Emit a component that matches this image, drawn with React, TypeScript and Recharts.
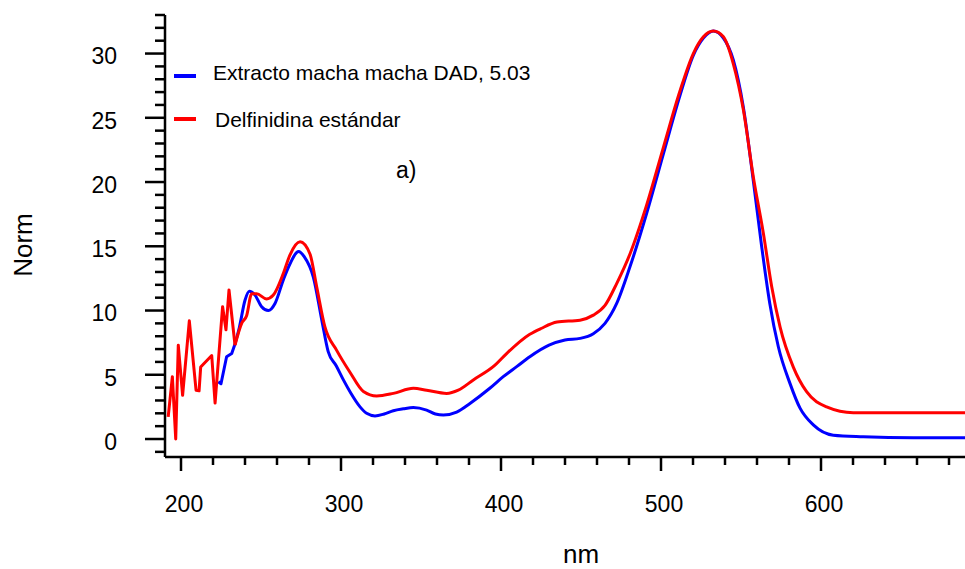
import React from 'react'
import { LineChart, Line, XAxis, YAxis } from 'recharts'

// Extracto macha macha DAD, 5.03 (blue)
const extractoNm = [
  223.3, 225, 228.5, 231.7, 233.75, 236.5, 240, 242.7, 246.25, 250.4, 254.6, 258.75, 264, 268, 273.5, 277,
  282.7, 288, 292, 297, 301.5, 306, 311.9, 316, 321.25, 327, 332.7, 339, 345.2, 353.5, 359, 364, 372.3,
  380.6, 393, 401.4, 410, 418, 430, 440, 449.4, 457.7, 465, 472.3, 480.6, 491, 501.5, 511.9, 520.2, 526.5,
  532.7, 539, 545.2, 551.5, 557.7, 562.9, 568, 573.3, 580.6, 586.9, 595.2, 607.7, 626.4, 657.7, 690
]
const extractoVal = [
  4.46, 4.3, 6.4, 6.65, 7.4, 8.7, 10.8, 11.5, 11.2, 10.3, 10.0, 10.55, 12.4, 13.6, 14.6, 14.2,
  12.6, 9.25, 6.8, 5.7, 4.6, 3.6, 2.5, 2.0, 1.8, 1.95, 2.2, 2.35, 2.45, 2.25, 1.95, 1.87, 2.1,
  2.77, 3.95, 4.85, 5.65, 6.4, 7.3, 7.7, 7.83, 8.2, 9.0, 10.55, 13.4, 17.55, 22.2, 26.75, 29.86, 31.2,
  31.75, 31.2, 29.5, 25.8, 20.1, 15.0, 10.55, 7.2, 4.33, 2.4, 1.1, 0.3, 0.18, 0.1, 0.1
]

// Delfinidina estándar (red)
const delfiNm = [
  192, 194.6, 196.7, 198.3, 201, 205.2, 209.4, 211.3, 212.3, 219.2, 221.3, 226, 228.1, 230, 233.75,
  237.9, 241, 244.2, 247.3, 253.5, 257.7, 264, 268, 274.4, 280.6, 284.8, 290, 297.3, 305.6, 314, 322.3,
  332.7, 345.2, 353.5, 366, 373.3, 382.7, 396.25, 403.5, 418, 425, 435, 449.4, 457.7, 465, 472.3, 480.6,
  491, 501.5, 511.9, 520.2, 526.5, 532.7, 539, 545.2, 551.5, 557.7, 564, 569.2, 574.4, 582.7, 591, 603.5,
  620.2, 690
]
const delfiVal = [
  1.73, 4.85, 0, 7.3, 3.4, 9.2, 3.8, 3.75, 5.6, 6.5, 2.8, 10.3, 8.5, 11.6, 7.3,
  9.0, 9.6, 11.3, 11.3, 10.9, 11.2, 12.9, 14.3, 15.35, 14.4, 11.85, 8.7, 6.9, 5.2, 3.7, 3.35,
  3.55, 3.95, 3.8, 3.55, 3.8, 4.6, 5.75, 6.65, 8.15, 8.6, 9.1, 9.25, 9.64, 10.4, 12.1, 14.4,
  18.2, 22.7, 27.1, 30.0, 31.3, 31.75, 31.3, 29.2, 25.6, 20.4, 16.0, 11.85, 8.73, 5.6, 3.68, 2.5,
  2.05, 2.05
]

const xTicks = [200, 220, 240, 260, 280, 300, 320, 340, 360, 380, 400, 420, 440, 460, 480, 500, 520, 540, 560, 580, 600, 620, 640, 660, 680]
const yTicks = [-1, 0, 1, 2, 3, 4, 5, 6, 7, 8, 9, 10, 11, 12, 13, 14, 15, 16, 17, 18, 19, 20, 21, 22, 23, 24, 25, 26, 27, 28, 29, 30, 31, 32, 33]

// below this wavelength the spectra are noisy, drawn with straight segments
const NOISE_END = 233.75

const toRows = (nms: number[], vals: number[]) => nms.map((nm, i) => ({ nm, v: vals[i] }))
const extractoRows = toRows(extractoNm, extractoVal)
const delfiRows = toRows(delfiNm, delfiVal)
const extractoNoisy = extractoRows.filter(d => d.nm <= NOISE_END)
const extractoSmooth = extractoRows.filter(d => d.nm >= NOISE_END)
const delfiNoisy = delfiRows.filter(d => d.nm <= NOISE_END)
const delfiSmooth = delfiRows.filter(d => d.nm >= NOISE_END)

const FONT = '"Liberation Sans", Arial, sans-serif'
const BLUE = '#0000ff'
const RED = '#ff0000'

const XTick = ({ x, y, payload }: any) => {
  const major = payload.value % 100 === 0
  return (
    <g>
      <line x1={x} x2={x} y1={y} y2={y + (major ? 14 : 8)} stroke="#000" strokeWidth={2.5} />
      {major && (
        <text x={x + 3} y={y + 54.5} textAnchor="middle" fontSize={23} fontFamily={FONT} fill="#000">
          {payload.value}
        </text>
      )}
    </g>
  )
}

const YTick = ({ x, y, payload }: any) => {
  const major = payload.value % 5 === 0
  return (
    <g>
      <line x1={x - (major ? 20 : 10)} x2={x} y1={y} y2={y} stroke="#000" strokeWidth={2.5} />
      {major && (
        <text x={x - 48} y={y + 2.5} dy="0.36em" textAnchor="end" fontSize={23} fontFamily={FONT} fill="#000">
          {payload.value}
        </text>
      )}
    </g>
  )
}

export default function App() {
  const lineProps = { dataKey: 'v', strokeWidth: 3, dot: false, isAnimationActive: false } as const
  return (
    <div style={{ position: 'absolute', left: 0, top: 0, width: 965, height: 569, background: '#fff' }}>
      <LineChart width={965} height={569} margin={{ top: 15, right: 0, bottom: 0, left: 0 }}>
        <XAxis
          dataKey="nm"
          type="number"
          domain={[190, 690]}
          allowDataOverflow
          ticks={xTicks}
          interval={0}
          height={112}
          tickSize={0}
          tickMargin={0}
          tick={XTick}
          axisLine={{ stroke: '#000', strokeWidth: 2.5 }}
        />
        <YAxis
          type="number"
          domain={[-1.4, 33]}
          allowDataOverflow
          ticks={yTicks}
          interval={0}
          width={165}
          tickSize={0}
          tickMargin={0}
          tick={YTick}
          axisLine={{ stroke: '#000', strokeWidth: 2.5 }}
        />
        <Line {...lineProps} data={extractoNoisy} type="linear" stroke={BLUE} strokeLinejoin="round" />
        <Line {...lineProps} data={extractoSmooth} type="monotone" stroke={BLUE} />
        <Line {...lineProps} data={delfiNoisy} type="linear" stroke={RED} strokeLinejoin="round" />
        <Line {...lineProps} data={delfiSmooth} type="monotone" stroke={RED} />
      </LineChart>
      <svg width={965} height={569} style={{ position: 'absolute', left: 0, top: 0, pointerEvents: 'none' }}>
        <line x1={174} x2={196} y1={76} y2={76} stroke={BLUE} strokeWidth={4} />
        <text x={213} y={80} fontSize={21} fontFamily={FONT} fill="#000">Extracto macha macha DAD, 5.03</text>
        <line x1={174} x2={196} y1={119} y2={119} stroke={RED} strokeWidth={4} />
        <text x={215} y={127} fontSize={21} fontFamily={FONT} fill="#000">Delfinidina estándar</text>
        <text x={396} y={178} fontSize={23} fontFamily={FONT} fill="#000">a)</text>
        <text x={32} y={245} transform="rotate(-90 32 245)" textAnchor="middle" fontSize={26} fontFamily={FONT} fill="#000">Norm</text>
        <text x={581} y={563} textAnchor="middle" fontSize={26} fontFamily={FONT} fill="#000">nm</text>
      </svg>
    </div>
  )
}
